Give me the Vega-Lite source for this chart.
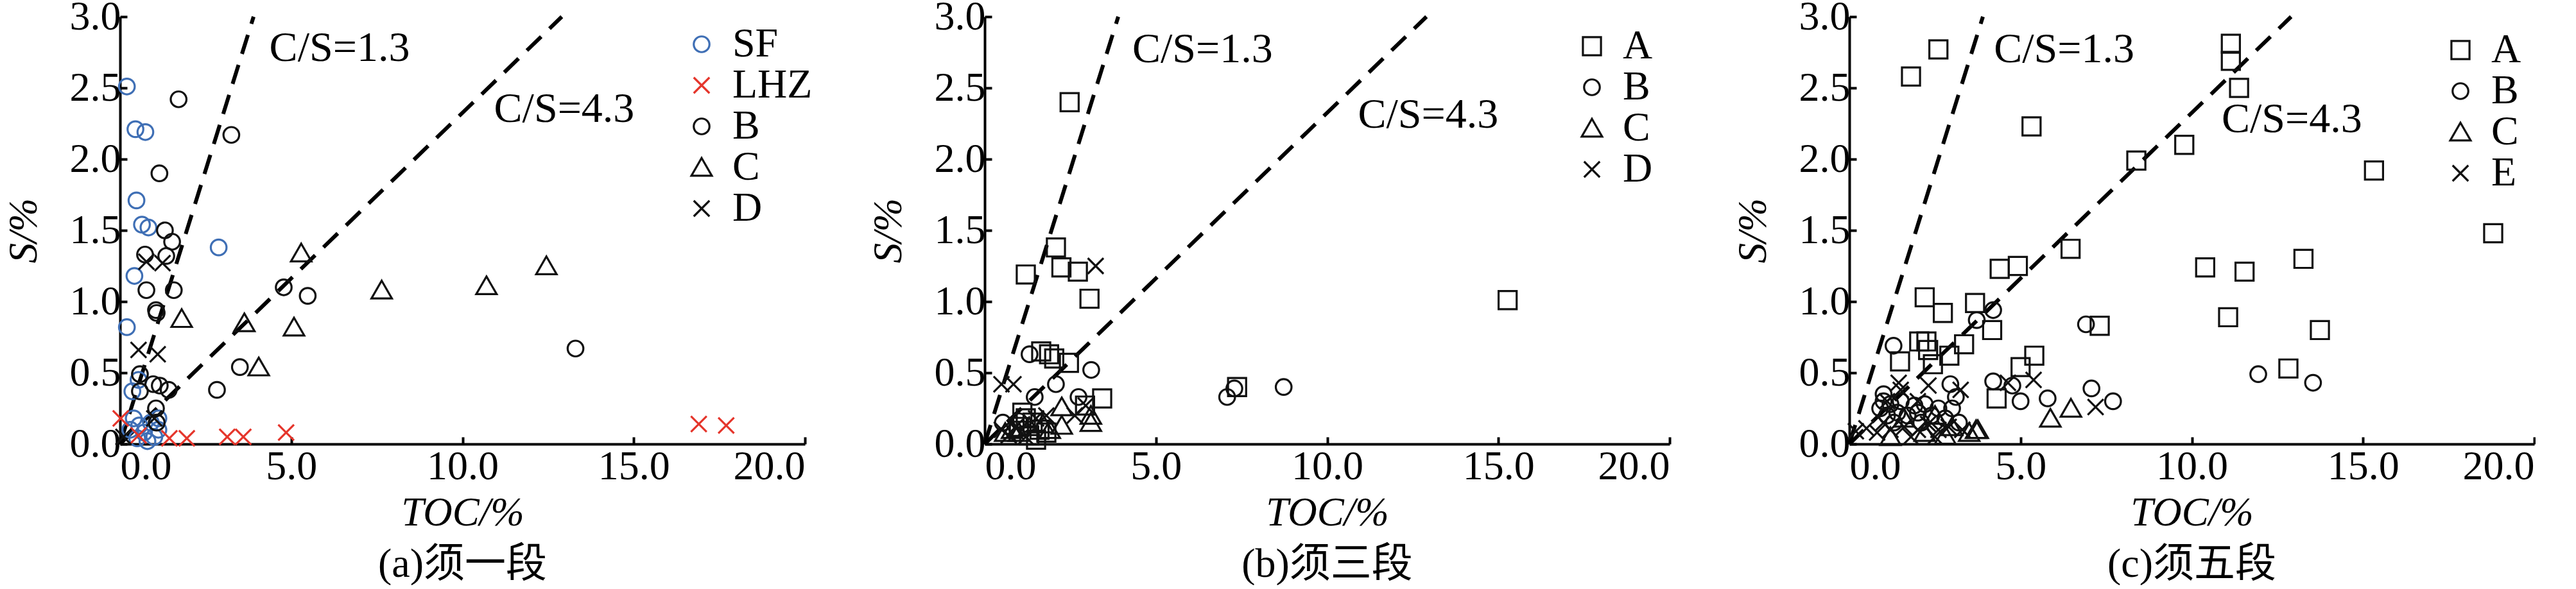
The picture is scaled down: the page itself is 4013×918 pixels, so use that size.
{
"$schema": "https://vega.github.io/schema/vega-lite/v6.json",
"background": "white",
"padding": {"left": 6, "top": -6, "right": 0, "bottom": 0},
"bounds": "flush",
"spacing": 280,
"resolve": {"scale": {"color": "independent", "shape": "independent", "x": "independent", "y": "independent"}, "legend": {"color": "independent", "shape": "independent"}},
"config": {
  "view": {"stroke": null},
  "font": "Liberation Serif",
  "axis": {"labelFont": "Liberation Serif", "labelFontSize": 64, "labelColor": "black", "titleFont": "Liberation Serif", "titleFontSize": 63, "titleColor": "black", "titleFontWeight": "normal", "titleFontStyle": "italic", "domainColor": "black", "domainWidth": 4, "tickColor": "black", "tickWidth": 4, "tickSize": -11, "grid": false},
  "title": {"font": "Liberation Serif, Noto Sans CJK SC", "fontSize": 64, "fontWeight": "normal", "color": "black"}
},
"datasets": {
  "lines": [
    {"line": "1.3", "TOC": 0, "S": 0}, {"line": "1.3", "TOC": 3.9, "S": 3},
    {"line": "4.3", "TOC": 0, "S": 0}, {"line": "4.3", "TOC": 12.9, "S": 3}
  ],
  "notes": [
    {"panel": "a", "label": "C/S=1.3", "TOC": 4.36, "S": 2.78},
    {"panel": "a", "label": "C/S=4.3", "TOC": 10.92, "S": 2.35},
    {"panel": "b", "label": "C/S=1.3", "TOC": 4.31, "S": 2.77},
    {"panel": "b", "label": "C/S=4.3", "TOC": 10.9, "S": 2.31},
    {"panel": "c", "label": "C/S=1.3", "TOC": 4.22, "S": 2.77},
    {"panel": "c", "label": "C/S=4.3", "TOC": 10.87, "S": 2.28}
  ],
  "a": [
    {"TOC": 0.2, "S": 2.51, "g": "SF"}, {"TOC": 0.45, "S": 2.21, "g": "SF"}, {"TOC": 0.74, "S": 2.19, "g": "SF"}, {"TOC": 0.48, "S": 1.71, "g": "SF"}, {"TOC": 0.64, "S": 1.54, "g": "SF"}, {"TOC": 0.83, "S": 1.52, "g": "SF"}, {"TOC": 2.88, "S": 1.38, "g": "SF"}, {"TOC": 0.42, "S": 1.18, "g": "SF"}, {"TOC": 0.2, "S": 0.82, "g": "SF"}, {"TOC": 0.36, "S": 0.37, "g": "SF"}, {"TOC": 0.54, "S": 0.45, "g": "SF"}, {"TOC": 0.4, "S": 0.18, "g": "SF"}, {"TOC": 0.56, "S": 0.13, "g": "SF"}, {"TOC": 1.12, "S": 0.18, "g": "SF"}, {"TOC": 1.12, "S": 0.1, "g": "SF"}, {"TOC": 0.5, "S": 0.04, "g": "SF"}, {"TOC": 0.8, "S": 0.02, "g": "SF"}, {"TOC": 1.0, "S": 0.05, "g": "SF"}, {"TOC": 0.3, "S": 0.1, "g": "SF"}, {"TOC": 0.7, "S": 0.08, "g": "SF"}, {"TOC": 0.9, "S": 0.15, "g": "SF"},
    {"TOC": 0.02, "S": 0.18, "g": "LHZ"}, {"TOC": 0.54, "S": 0.06, "g": "LHZ"}, {"TOC": 1.44, "S": 0.04, "g": "LHZ"}, {"TOC": 1.95, "S": 0.04, "g": "LHZ"}, {"TOC": 3.13, "S": 0.05, "g": "LHZ"}, {"TOC": 3.6, "S": 0.05, "g": "LHZ"}, {"TOC": 4.85, "S": 0.08, "g": "LHZ"}, {"TOC": 16.9, "S": 0.14, "g": "LHZ"}, {"TOC": 17.7, "S": 0.13, "g": "LHZ"},
    {"TOC": 1.71, "S": 2.42, "g": "B"}, {"TOC": 3.25, "S": 2.17, "g": "B"}, {"TOC": 1.15, "S": 1.9, "g": "B"}, {"TOC": 1.31, "S": 1.5, "g": "B"}, {"TOC": 1.52, "S": 1.42, "g": "B"}, {"TOC": 0.73, "S": 1.33, "g": "B"}, {"TOC": 1.35, "S": 1.32, "g": "B"}, {"TOC": 0.77, "S": 1.08, "g": "B"}, {"TOC": 1.57, "S": 1.08, "g": "B"}, {"TOC": 1.05, "S": 0.94, "g": "B"}, {"TOC": 1.07, "S": 0.92, "g": "B"}, {"TOC": 4.78, "S": 1.1, "g": "B"}, {"TOC": 5.48, "S": 1.04, "g": "B"}, {"TOC": 13.3, "S": 0.67, "g": "B"}, {"TOC": 3.5, "S": 0.54, "g": "B"}, {"TOC": 2.83, "S": 0.38, "g": "B"}, {"TOC": 0.58, "S": 0.49, "g": "B"}, {"TOC": 0.97, "S": 0.42, "g": "B"}, {"TOC": 1.16, "S": 0.41, "g": "B"}, {"TOC": 1.42, "S": 0.38, "g": "B"}, {"TOC": 0.58, "S": 0.37, "g": "B"}, {"TOC": 1.05, "S": 0.25, "g": "B"}, {"TOC": 1.07, "S": 0.15, "g": "B"},
    {"TOC": 5.29, "S": 1.34, "g": "C"}, {"TOC": 12.45, "S": 1.25, "g": "C"}, {"TOC": 10.7, "S": 1.11, "g": "C"}, {"TOC": 7.64, "S": 1.08, "g": "C"}, {"TOC": 1.8, "S": 0.88, "g": "C"}, {"TOC": 3.63, "S": 0.85, "g": "C"}, {"TOC": 5.08, "S": 0.82, "g": "C"}, {"TOC": 4.05, "S": 0.54, "g": "C"},
    {"TOC": 0.77, "S": 1.28, "g": "D"}, {"TOC": 1.24, "S": 1.27, "g": "D"}, {"TOC": 0.54, "S": 0.66, "g": "D"}, {"TOC": 1.1, "S": 0.63, "g": "D"}, {"TOC": 1.0, "S": 0.18, "g": "D"}, {"TOC": 0.1, "S": 0.05, "g": "D"}
  ],
  "b": [
    {"TOC": 2.48, "S": 2.4, "g": "A"}, {"TOC": 2.08, "S": 1.38, "g": "A"}, {"TOC": 1.2, "S": 1.19, "g": "A"}, {"TOC": 2.24, "S": 1.24, "g": "A"}, {"TOC": 2.72, "S": 1.21, "g": "A"}, {"TOC": 3.06, "S": 1.02, "g": "A"}, {"TOC": 15.27, "S": 1.01, "g": "A"}, {"TOC": 7.37, "S": 0.4, "g": "A"}, {"TOC": 1.65, "S": 0.65, "g": "A"}, {"TOC": 1.88, "S": 0.63, "g": "A"}, {"TOC": 2.03, "S": 0.6, "g": "A"}, {"TOC": 2.46, "S": 0.57, "g": "A"}, {"TOC": 3.43, "S": 0.32, "g": "A"}, {"TOC": 2.93, "S": 0.27, "g": "A"}, {"TOC": 1.0, "S": 0.12, "g": "A"}, {"TOC": 1.2, "S": 0.18, "g": "A"}, {"TOC": 1.4, "S": 0.15, "g": "A"}, {"TOC": 1.6, "S": 0.1, "g": "A"}, {"TOC": 1.5, "S": 0.03, "g": "A"}, {"TOC": 1.8, "S": 0.08, "g": "A"}, {"TOC": 1.1, "S": 0.22, "g": "A"}, {"TOC": 1.3, "S": 0.06, "g": "A"},
    {"TOC": 0.53, "S": 0.15, "g": "B"}, {"TOC": 1.31, "S": 0.63, "g": "B"}, {"TOC": 2.08, "S": 0.42, "g": "B"}, {"TOC": 1.46, "S": 0.33, "g": "B"}, {"TOC": 2.74, "S": 0.33, "g": "B"}, {"TOC": 3.11, "S": 0.52, "g": "B"}, {"TOC": 1.0, "S": 0.16, "g": "B"}, {"TOC": 7.29, "S": 0.39, "g": "B"}, {"TOC": 7.08, "S": 0.33, "g": "B"}, {"TOC": 8.73, "S": 0.4, "g": "B"},
    {"TOC": 0.8, "S": 0.1, "g": "C"}, {"TOC": 1.0, "S": 0.08, "g": "C"}, {"TOC": 1.3, "S": 0.12, "g": "C"}, {"TOC": 1.7, "S": 0.14, "g": "C"}, {"TOC": 1.9, "S": 0.1, "g": "C"}, {"TOC": 2.25, "S": 0.13, "g": "C"}, {"TOC": 2.25, "S": 0.26, "g": "C"}, {"TOC": 3.1, "S": 0.2, "g": "C"}, {"TOC": 3.1, "S": 0.15, "g": "C"}, {"TOC": 0.6, "S": 0.08, "g": "C"},
    {"TOC": 0.7, "S": 0.06, "g": "D"}, {"TOC": 0.9, "S": 0.12, "g": "D"}, {"TOC": 1.2, "S": 0.05, "g": "D"}, {"TOC": 1.5, "S": 0.18, "g": "D"}, {"TOC": 1.8, "S": 0.2, "g": "D"}, {"TOC": 2.63, "S": 0.2, "g": "D"}, {"TOC": 2.95, "S": 0.27, "g": "D"}, {"TOC": 0.49, "S": 0.42, "g": "D"}, {"TOC": 0.84, "S": 0.42, "g": "D"}, {"TOC": 3.24, "S": 1.25, "g": "D"}, {"TOC": 0.5, "S": 0.1, "g": "D"}
  ],
  "c": [
    {"TOC": 1.8, "S": 2.58, "g": "A"}, {"TOC": 2.6, "S": 2.77, "g": "A"}, {"TOC": 11.14, "S": 2.81, "g": "A"}, {"TOC": 11.14, "S": 2.69, "g": "A"}, {"TOC": 11.38, "S": 2.5, "g": "A"}, {"TOC": 5.32, "S": 2.23, "g": "A"}, {"TOC": 9.78, "S": 2.1, "g": "A"}, {"TOC": 8.38, "S": 1.99, "g": "A"}, {"TOC": 15.32, "S": 1.92, "g": "A"}, {"TOC": 18.8, "S": 1.48, "g": "A"}, {"TOC": 6.46, "S": 1.37, "g": "A"}, {"TOC": 4.39, "S": 1.23, "g": "A"}, {"TOC": 4.92, "S": 1.25, "g": "A"}, {"TOC": 10.39, "S": 1.24, "g": "A"}, {"TOC": 11.54, "S": 1.21, "g": "A"}, {"TOC": 13.26, "S": 1.3, "g": "A"}, {"TOC": 2.2, "S": 1.03, "g": "A"}, {"TOC": 2.73, "S": 0.92, "g": "A"}, {"TOC": 3.67, "S": 0.99, "g": "A"}, {"TOC": 4.17, "S": 0.8, "g": "A"}, {"TOC": 7.31, "S": 0.83, "g": "A"}, {"TOC": 11.06, "S": 0.89, "g": "A"}, {"TOC": 13.74, "S": 0.8, "g": "A"}, {"TOC": 12.82, "S": 0.53, "g": "A"}, {"TOC": 3.35, "S": 0.7, "g": "A"}, {"TOC": 2.04, "S": 0.72, "g": "A"}, {"TOC": 2.25, "S": 0.72, "g": "A"}, {"TOC": 1.48, "S": 0.58, "g": "A"}, {"TOC": 2.44, "S": 0.56, "g": "A"}, {"TOC": 2.92, "S": 0.62, "g": "A"}, {"TOC": 5.4, "S": 0.62, "g": "A"}, {"TOC": 5.0, "S": 0.54, "g": "A"}, {"TOC": 4.3, "S": 0.32, "g": "A"}, {"TOC": 2.3, "S": 0.66, "g": "A"},
    {"TOC": 11.94, "S": 0.49, "g": "B"}, {"TOC": 13.54, "S": 0.43, "g": "B"}, {"TOC": 6.91, "S": 0.84, "g": "B"}, {"TOC": 7.07, "S": 0.39, "g": "B"}, {"TOC": 7.7, "S": 0.3, "g": "B"}, {"TOC": 5.79, "S": 0.32, "g": "B"}, {"TOC": 5.0, "S": 0.3, "g": "B"}, {"TOC": 4.2, "S": 0.94, "g": "B"}, {"TOC": 3.72, "S": 0.87, "g": "B"}, {"TOC": 1.29, "S": 0.69, "g": "B"}, {"TOC": 4.2, "S": 0.44, "g": "B"}, {"TOC": 4.76, "S": 0.41, "g": "B"}, {"TOC": 2.95, "S": 0.42, "g": "B"}, {"TOC": 3.11, "S": 0.33, "g": "B"}, {"TOC": 0.9, "S": 0.25, "g": "B"}, {"TOC": 1.0, "S": 0.3, "g": "B"}, {"TOC": 1.1, "S": 0.2, "g": "B"}, {"TOC": 1.2, "S": 0.28, "g": "B"}, {"TOC": 1.4, "S": 0.22, "g": "B"}, {"TOC": 1.5, "S": 0.3, "g": "B"}, {"TOC": 1.7, "S": 0.2, "g": "B"}, {"TOC": 1.9, "S": 0.27, "g": "B"}, {"TOC": 2.0, "S": 0.22, "g": "B"}, {"TOC": 2.2, "S": 0.28, "g": "B"}, {"TOC": 2.4, "S": 0.2, "g": "B"}, {"TOC": 2.6, "S": 0.25, "g": "B"}, {"TOC": 2.8, "S": 0.18, "g": "B"}, {"TOC": 3.0, "S": 0.25, "g": "B"}, {"TOC": 1.0, "S": 0.35, "g": "B"}, {"TOC": 3.2, "S": 0.15, "g": "B"}, {"TOC": 1.3, "S": 0.15, "g": "B"}, {"TOC": 2.1, "S": 0.15, "g": "B"},
    {"TOC": 3.75, "S": 0.1, "g": "C"}, {"TOC": 3.5, "S": 0.08, "g": "C"}, {"TOC": 3.7, "S": 0.1, "g": "C"}, {"TOC": 5.87, "S": 0.18, "g": "C"}, {"TOC": 6.47, "S": 0.25, "g": "C"}, {"TOC": 1.2, "S": 0.05, "g": "C"}, {"TOC": 2.2, "S": 0.08, "g": "C"}, {"TOC": 2.8, "S": 0.06, "g": "C"}, {"TOC": 3.0, "S": 0.12, "g": "C"}, {"TOC": 1.6, "S": 0.18, "g": "C"}, {"TOC": 2.5, "S": 0.2, "g": "C"},
    {"TOC": 0.19, "S": 0.09, "g": "E"}, {"TOC": 0.5, "S": 0.11, "g": "E"}, {"TOC": 0.81, "S": 0.08, "g": "E"}, {"TOC": 1.0, "S": 0.15, "g": "E"}, {"TOC": 1.2, "S": 0.1, "g": "E"}, {"TOC": 1.44, "S": 0.43, "g": "E"}, {"TOC": 1.5, "S": 0.38, "g": "E"}, {"TOC": 2.31, "S": 0.41, "g": "E"}, {"TOC": 3.25, "S": 0.38, "g": "E"}, {"TOC": 1.6, "S": 0.12, "g": "E"}, {"TOC": 2.0, "S": 0.1, "g": "E"}, {"TOC": 2.3, "S": 0.14, "g": "E"}, {"TOC": 2.6, "S": 0.1, "g": "E"}, {"TOC": 2.9, "S": 0.12, "g": "E"}, {"TOC": 3.3, "S": 0.1, "g": "E"}, {"TOC": 1.8, "S": 0.05, "g": "E"}, {"TOC": 2.5, "S": 0.05, "g": "E"}, {"TOC": 4.63, "S": 0.43, "g": "E"}, {"TOC": 5.38, "S": 0.45, "g": "E"}, {"TOC": 7.19, "S": 0.26, "g": "E"}, {"TOC": 1.1, "S": 0.3, "g": "E"}, {"TOC": 2.0, "S": 0.3, "g": "E"}
  ]
},
"hconcat": [
  {
    "width": 1067, "height": 666,
    "title": {"text": "(a)须一段", "orient": "bottom", "offset": 17, "anchor": "middle"},
    "encoding": {
      "x": {"field": "TOC", "type": "quantitative", "scale": {"domain": [0, 20], "nice": false, "zero": false}, "axis": {"values": [0, 5, 10, 15, 20], "format": ".1f", "title": "TOC/%", "labelPadding": 14, "titleY": 107, "titleBaseline": "middle"}},
      "y": {"field": "S", "type": "quantitative", "scale": {"domain": [0, 3], "nice": false, "zero": false}, "axis": {"values": [0, 0.5, 1, 1.5, 2, 2.5, 3], "format": ".1f", "title": "S/%", "labelPadding": 10, "titleX": -150, "titleY": 333, "titleBaseline": "middle", "titleAngle": -90}}
    },
    "layer": [
      {"data": {"name": "lines"}, "mark": {"type": "line", "color": "black", "strokeWidth": 6, "strokeDash": [31, 18]}, "encoding": {"detail": {"field": "line"}}},
      {"data": {"name": "notes"}, "transform": [{"filter": "datum.panel == 'a'"}], "mark": {"type": "text", "align": "left", "baseline": "middle", "fontSize": 66, "font": "Liberation Serif", "color": "black"}, "encoding": {"text": {"field": "label"}}},
      {"data": {"name": "a"}, "mark": {"type": "point", "filled": false, "strokeWidth": 3.2, "size": 600, "opacity": 1},
       "encoding": {
         "shape": {"field": "g", "type": "nominal", "scale": {"domain": ["SF", "LHZ", "B", "C", "D"], "range": ["circle", "M-1,-1L1,1M-1,1L1,-1", "circle", "M0,-1.2L1.3,1.05L-1.3,1.05Z", "M-1,-1L1,1M-1,1L1,-1"]},
           "legend": {"orient": "none", "legendX": 874, "legendY": 11, "title": null, "labelFontSize": 64, "labelFont": "Liberation Serif", "labelColor": "black", "symbolStrokeWidth": 3.2, "symbolSize": 600, "rowPadding": 0, "labelOffset": 16, "padding": 0}},
         "color": {"field": "g", "type": "nominal", "scale": {"domain": ["SF", "LHZ", "B", "C", "D"], "range": ["#3f6fb5", "#e5352b", "#111111", "#111111", "#111111"]},
           "legend": {"orient": "none", "legendX": 874, "legendY": 11, "title": null, "labelFontSize": 64, "labelFont": "Liberation Serif", "labelColor": "black", "symbolStrokeWidth": 3.2, "symbolSize": 600, "rowPadding": 0, "labelOffset": 16, "padding": 0}}
       }}
    ]
  },
  {
    "width": 1067, "height": 666,
    "title": {"text": "(b)须三段", "orient": "bottom", "offset": 17, "anchor": "middle"},
    "encoding": {
      "x": {"field": "TOC", "type": "quantitative", "scale": {"domain": [0, 20], "nice": false, "zero": false}, "axis": {"values": [0, 5, 10, 15, 20], "format": ".1f", "title": "TOC/%", "labelPadding": 14, "titleY": 107, "titleBaseline": "middle"}},
      "y": {"field": "S", "type": "quantitative", "scale": {"domain": [0, 3], "nice": false, "zero": false}, "axis": {"values": [0, 0.5, 1, 1.5, 2, 2.5, 3], "format": ".1f", "title": "S/%", "labelPadding": 10, "titleX": -150, "titleY": 333, "titleBaseline": "middle", "titleAngle": -90}}
    },
    "layer": [
      {"data": {"name": "lines"}, "mark": {"type": "line", "color": "black", "strokeWidth": 6, "strokeDash": [31, 18]}, "encoding": {"detail": {"field": "line"}}},
      {"data": {"name": "notes"}, "transform": [{"filter": "datum.panel == 'b'"}], "mark": {"type": "text", "align": "left", "baseline": "middle", "fontSize": 66, "font": "Liberation Serif", "color": "black"}, "encoding": {"text": {"field": "label"}}},
      {"data": {"name": "b"}, "mark": {"type": "point", "filled": false, "strokeWidth": 3.2, "size": 600, "color": "#111111", "opacity": 1},
       "encoding": {
         "shape": {"field": "g", "type": "nominal", "scale": {"domain": ["A", "B", "C", "D"], "range": ["M-1.15,-1.15L1.15,-1.15L1.15,1.15L-1.15,1.15Z", "circle", "M0,-1.2L1.3,1.05L-1.3,1.05Z", "M-1,-1L1,1M-1,1L1,-1"]},
           "legend": {"orient": "none", "legendX": 914, "legendY": 14, "title": null, "labelFontSize": 64, "labelFont": "Liberation Serif", "labelColor": "black", "symbolStrokeColor": "#111111", "symbolStrokeWidth": 3.2, "symbolSize": 600, "rowPadding": 0, "labelOffset": 16, "padding": 0}}
       }}
    ]
  },
  {
    "width": 1067, "height": 666,
    "title": {"text": "(c)须五段", "orient": "bottom", "offset": 17, "anchor": "middle"},
    "encoding": {
      "x": {"field": "TOC", "type": "quantitative", "scale": {"domain": [0, 20], "nice": false, "zero": false}, "axis": {"values": [0, 5, 10, 15, 20], "format": ".1f", "title": "TOC/%", "labelPadding": 14, "titleY": 107, "titleBaseline": "middle"}},
      "y": {"field": "S", "type": "quantitative", "scale": {"domain": [0, 3], "nice": false, "zero": false}, "axis": {"values": [0, 0.5, 1, 1.5, 2, 2.5, 3], "format": ".1f", "title": "S/%", "labelPadding": 10, "titleX": -150, "titleY": 333, "titleBaseline": "middle", "titleAngle": -90}}
    },
    "layer": [
      {"data": {"name": "lines"}, "mark": {"type": "line", "color": "black", "strokeWidth": 6, "strokeDash": [31, 18]}, "encoding": {"detail": {"field": "line"}}},
      {"data": {"name": "notes"}, "transform": [{"filter": "datum.panel == 'c'"}], "mark": {"type": "text", "align": "left", "baseline": "middle", "fontSize": 66, "font": "Liberation Serif", "color": "black"}, "encoding": {"text": {"field": "label"}}},
      {"data": {"name": "c"}, "mark": {"type": "point", "filled": false, "strokeWidth": 3.2, "size": 600, "color": "#111111", "opacity": 1},
       "encoding": {
         "shape": {"field": "g", "type": "nominal", "scale": {"domain": ["A", "B", "C", "E"], "range": ["M-1.15,-1.15L1.15,-1.15L1.15,1.15L-1.15,1.15Z", "circle", "M0,-1.2L1.3,1.05L-1.3,1.05Z", "M-1,-1L1,1M-1,1L1,-1"]},
           "legend": {"orient": "none", "legendX": 920, "legendY": 20, "title": null, "labelFontSize": 64, "labelFont": "Liberation Serif", "labelColor": "black", "symbolStrokeColor": "#111111", "symbolStrokeWidth": 3.2, "symbolSize": 600, "rowPadding": 0, "labelOffset": 16, "padding": 0}}
       }}
    ]
  }
]
}
